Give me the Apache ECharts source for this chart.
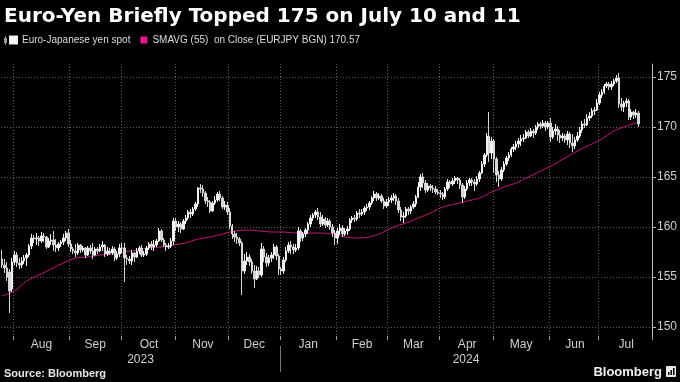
<!DOCTYPE html>
<html><head><meta charset="utf-8">
<script src="https://cdn.jsdelivr.net/npm/echarts/dist/echarts.min.js"></script>
<style>html,body{margin:0;padding:0;background:#000;}#chart{width:680px;height:382px;}</style>
</head><body><div id="chart"></div>
<script>
const titleText = 'Euro-Yen Briefly Topped 175 on July 10 and 11';
const spotName = 'Euro-Japanese yen spot';
const smaName = 'SMAVG (55)  on Close (EURJPY BGN) 170.57';
const sourceText = 'Source: Bloomberg';
const yTicks = [150, 155, 160, 165, 170, 175];
const monthNames = ['Jan','Feb','Mar','Apr','May','Jun','Jul','Aug','Sep','Oct','Nov','Dec'];
const firstDay = '2023-07-25';
const lastAxisDay = '2024-07-30';

// daily candles: [open, close, low, high]
const jul2023 = [[156.8,156.2,155.9,157.7],[156.2,155.9,155.4,156.8],[155.9,155.0,154.6,156.5],[155.5,153.6,151.4,155.8],[153.8,156.5,153.5,156.9]];
const aug2023 = [[156.5,157.2,156.2,157.6],[157.2,156.4,156.0,157.5],[156.4,156.2,155.8,156.9],[156.2,156.6,155.9,157.0],[156.6,156.9,156.3,157.2],[156.9,157.2,156.1,157.4],[157.2,158.1,157.0,158.3],[158.1,158.9,157.8,159.3],[158.9,158.8,158.4,159.2],[158.8,158.9,158.2,159.4],[158.9,158.6,158.1,159.1],[158.6,159.1,158.4,159.5],[159.1,159.0,158.5,159.4],[159.0,158.0,157.8,159.1],[158.0,158.6,157.9,158.9],[158.6,158.7,158.2,159.3],[158.7,158.2,157.6,159.6],[158.2,157.9,157.5,158.8],[157.9,158.3,157.6,158.5],[158.3,158.5,158.0,158.7],[158.5,158.9,158.2,159.3],[158.9,159.4,158.6,159.6],[159.4,158.3,158.0,159.8]];
const sep2023 = [[158.3,157.8,157.5,158.7],[157.8,157.6,157.3,158.0],[157.6,157.4,157.0,158.3],[157.4,158.2,157.2,158.4],[158.2,157.7,157.4,158.3],[157.7,157.9,157.5,158.1],[157.9,157.2,156.9,158.0],[157.2,157.9,157.1,158.1],[157.9,157.6,157.3,158.2],[157.6,157.2,156.8,158.4],[157.2,157.8,157.1,158.0],[157.8,157.6,157.3,158.0],[157.6,158.0,157.5,158.3],[158.0,158.2,157.6,158.6],[158.2,157.3,157.0,158.3],[157.3,157.6,157.1,158.0],[157.6,157.4,157.2,157.9],[157.4,157.8,157.2,158.1],[157.8,156.9,156.6,158.0],[156.9,157.3,156.7,157.6],[157.3,157.9,157.0,158.3]];
const oct2023 = [[157.9,157.9,157.4,158.4],[157.9,156.9,154.5,158.4],[156.9,156.8,156.2,157.2],[156.8,156.6,156.3,157.1],[156.6,157.4,156.2,157.7],[157.4,157.0,156.5,157.5],[157.0,157.6,156.9,157.9],[157.6,157.9,157.3,158.1],[157.9,157.2,157.0,158.2],[157.2,157.3,157.0,157.6],[157.3,157.9,157.1,158.1],[157.9,158.3,157.7,158.5],[158.3,158.0,157.7,158.6],[158.0,158.2,157.6,158.7],[158.2,158.6,158.0,158.8],[158.6,159.6,158.5,159.9],[159.6,158.7,158.5,159.8],[158.7,158.2,158.0,158.9],[158.2,158.0,157.6,158.4],[158.0,158.1,157.8,158.4],[158.1,158.6,157.9,158.9],[158.6,160.6,158.2,160.9]];
const nov2023 = [[160.6,160.0,159.6,160.9],[160.0,160.3,159.5,160.6],[160.3,159.8,159.4,160.5],[159.8,160.6,159.7,160.8],[160.6,160.9,160.3,161.2],[160.9,161.5,160.7,161.7],[161.5,161.3,160.9,161.8],[161.3,161.8,161.1,162.0],[161.8,162.3,161.6,162.5],[162.3,163.9,162.0,164.0],[163.9,163.8,163.4,164.3],[163.8,163.4,163.0,164.2],[163.4,162.6,162.3,163.6],[162.6,162.5,162.0,163.0],[162.5,161.6,161.4,162.7],[161.6,162.4,161.5,162.6],[162.4,162.7,162.2,163.1],[162.7,163.3,162.5,163.5],[163.3,162.9,162.6,163.6],[162.9,162.0,161.8,163.1],[162.0,162.2,161.7,162.6],[162.2,161.5,161.2,162.5]];
const dec2023 = [[161.5,160.1,159.8,161.9],[160.1,159.3,158.8,160.3],[159.3,159.0,158.5,159.6],[159.0,158.8,158.3,159.4],[158.8,158.4,158.1,159.0],[158.4,155.6,153.2,158.6],[155.6,156.6,155.3,157.3],[156.6,157.0,156.2,157.5],[157.0,156.5,156.1,157.3],[156.5,155.6,155.3,156.8],[155.6,154.8,153.9,156.2],[154.8,155.6,154.7,156.1],[155.6,155.2,154.9,156.0],[155.2,157.8,155.0,158.4],[157.8,157.0,156.5,158.1],[157.0,156.4,156.0,157.4],[156.4,156.9,156.1,157.2],[156.9,157.2,156.5,157.5],[157.2,158.0,156.8,158.3],[158.0,157.1,156.7,158.2],[157.1,155.8,155.2,157.3]];
const jan2024 = [[155.8,155.6,155.2,156.0],[155.6,156.7,155.3,157.0],[156.7,157.6,156.5,158.0],[157.6,158.2,157.4,158.5],[158.2,158.0,157.3,158.6],[158.0,157.7,157.3,158.3],[157.7,157.9,157.5,158.3],[157.9,159.6,157.7,160.0],[159.6,158.9,158.5,159.8],[158.9,159.3,158.6,159.5],[159.3,159.7,159.0,159.9],[159.7,160.3,159.3,160.5],[160.3,160.9,160.0,161.2],[160.9,161.2,160.6,161.4],[161.2,161.5,160.9,161.7],[161.5,161.0,160.7,161.9],[161.0,160.3,160.0,161.5],[160.3,160.8,160.1,161.2],[160.8,160.2,159.9,161.0],[160.2,160.6,160.0,160.9],[160.6,160.0,159.7,160.8],[160.0,159.4,159.0,160.3],[159.4,158.9,158.2,159.7]];
const feb2024 = [[158.9,159.6,158.3,159.9],[159.6,159.9,159.2,160.3],[159.9,159.3,159.0,160.2],[159.3,159.6,159.1,159.9],[159.6,159.8,159.2,160.1],[159.8,160.7,159.6,160.9],[160.7,160.9,160.4,161.1],[160.9,160.8,160.5,161.2],[160.8,161.4,160.6,161.6],[161.4,161.3,160.9,161.8],[161.3,161.5,161.1,161.8],[161.5,161.9,161.2,162.1],[161.9,162.0,161.6,162.3],[162.0,162.4,161.7,162.6],[162.4,162.9,162.2,163.1],[162.9,163.3,162.6,163.6],[163.3,162.9,162.6,163.5],[162.9,163.1,162.7,163.4],[163.1,162.6,162.4,163.3],[162.6,162.1,161.8,162.9],[162.1,162.5,161.9,162.8]];
const mar2024 = [[162.5,162.7,162.1,163.0],[162.7,162.9,162.4,163.2],[162.9,163.1,162.6,163.4],[163.1,162.6,162.2,163.3],[162.6,161.7,161.4,162.9],[161.7,161.0,160.6,162.0],[161.0,161.1,160.4,161.5],[161.1,161.8,160.9,162.0],[161.8,161.6,161.2,162.0],[161.6,162.0,161.3,162.2],[162.0,162.3,161.8,162.6],[162.3,163.0,162.0,163.2],[163.0,164.0,162.9,164.5],[164.0,165.0,163.6,165.3],[165.0,164.4,163.9,165.4],[164.4,163.7,163.4,164.7],[163.7,164.1,163.5,164.4],[164.1,163.9,163.6,164.3],[163.9,163.8,163.4,164.2],[163.8,163.5,163.3,164.1],[163.5,163.4,163.2,163.8]];
const apr2024 = [[163.4,163.3,162.9,163.7],[163.3,163.0,162.7,163.5],[163.0,163.8,162.8,164.0],[163.8,164.5,163.6,164.8],[164.5,164.3,163.9,164.7],[164.3,164.6,164.1,164.9],[164.6,164.9,164.3,165.1],[164.9,164.7,164.3,165.0],[164.7,164.2,163.8,164.9],[164.2,163.0,162.4,164.4],[163.0,163.8,162.8,164.1],[163.8,164.4,163.6,164.7],[164.4,164.7,164.1,164.9],[164.7,164.5,164.1,164.9],[164.5,164.3,163.6,164.8],[164.3,164.8,164.1,165.1],[164.8,165.4,164.5,165.6],[165.4,166.3,165.3,166.6],[166.3,167.2,166.0,167.4],[167.2,169.1,167.0,169.4],[169.1,167.4,166.5,171.5],[167.4,168.6,166.8,169.0]];
const may2024 = [[168.6,166.8,165.4,168.8],[166.8,165.2,164.5,167.0],[165.2,164.8,164.0,165.6],[164.8,165.7,164.6,166.0],[165.7,166.3,165.5,166.6],[166.3,166.9,166.1,167.1],[166.9,167.2,166.6,167.5],[167.2,167.8,167.0,168.0],[167.8,168.0,167.5,168.3],[168.0,168.3,167.7,168.6],[168.3,168.6,167.9,168.9],[168.6,168.8,168.1,169.2],[168.8,168.9,168.5,169.3],[168.9,169.5,168.8,169.7],[169.5,169.1,168.9,169.7],[169.1,169.6,169.0,169.9],[169.6,169.4,168.9,169.8],[169.4,170.0,169.2,170.2],[170.0,170.3,169.7,170.5],[170.3,170.1,169.8,170.5],[170.1,170.4,169.9,170.7],[170.4,170.0,169.6,170.6],[170.0,170.4,169.8,170.6]];
const jun2024 = [[170.4,169.0,168.5,170.9],[169.0,169.6,168.8,170.0],[169.6,169.8,169.2,170.3],[169.8,169.2,168.6,170.1],[169.2,168.9,168.4,169.7],[168.9,169.1,168.6,169.4],[169.1,168.7,168.4,169.3],[168.7,169.3,168.2,169.6],[169.3,168.4,167.9,169.5],[168.4,168.1,167.5,169.3],[168.1,168.7,167.8,169.0],[168.7,169.1,168.5,169.5],[169.1,169.7,168.9,170.0],[169.7,170.3,169.4,170.6],[170.3,170.2,169.9,170.8],[170.2,170.9,170.1,171.3],[170.9,171.1,170.6,171.5],[171.1,171.6,170.9,171.9],[171.6,171.7,171.2,172.0],[171.7,172.4,171.6,172.8]];
const jul2024 = [[172.4,173.2,172.2,173.5],[173.2,173.5,172.9,173.8],[173.5,174.1,173.3,174.3],[174.1,174.3,173.9,174.5],[174.3,174.0,173.7,174.5],[174.0,174.3,173.7,174.6],[174.3,174.6,174.1,174.8],[174.6,174.9,174.4,175.2],[174.9,172.3,171.9,175.4],[172.3,172.0,171.6,172.9],[172.0,172.4,171.5,172.6],[172.4,172.6,172.0,172.9],[172.6,171.0,170.7,172.8],[171.0,171.5,170.7,171.8],[171.5,171.2,170.8,171.6],[171.2,171.4,170.9,171.8],[171.4,170.3,170.0,171.6]];

// 55-day moving average
const smaDates = ['2023-07-25','2023-08-01','2023-08-08','2023-08-15','2023-08-22','2023-08-29','2023-09-05','2023-09-12','2023-09-19','2023-09-26','2023-10-03','2023-10-10','2023-10-17','2023-10-24','2023-10-31','2023-11-07','2023-11-14','2023-11-21','2023-11-28','2023-12-05','2023-12-12','2023-12-19','2023-12-26','2024-01-02','2024-01-09','2024-01-16','2024-01-23','2024-01-30','2024-02-06','2024-02-13','2024-02-20','2024-02-27','2024-03-05','2024-03-12','2024-03-19','2024-03-26','2024-04-02','2024-04-09','2024-04-16','2024-04-23','2024-04-30','2024-05-07','2024-05-14','2024-05-21','2024-05-28','2024-06-04','2024-06-11','2024-06-18','2024-06-25','2024-07-02','2024-07-09','2024-07-16','2024-07-23'];
const smaValues = [153.1,153.6,154.6,155.2,155.8,156.4,156.9,157.0,157.2,157.3,157.5,157.7,157.9,158.0,158.2,158.4,158.8,159.0,159.3,159.6,159.7,159.6,159.5,159.5,159.4,159.4,159.4,159.3,159.0,158.9,159.0,159.4,160.0,160.4,160.9,161.4,162.0,162.3,162.6,162.9,163.5,164.0,164.4,165.0,165.6,166.2,166.9,167.6,168.2,168.8,169.6,170.1,170.5];

const ohlc = [].concat(jul2023, aug2023, sep2023, oct2023, nov2023, dec2023, jan2024, feb2024, mar2024, apr2024, may2024, jun2024, jul2024);

// weekday categories
const categories = [];
for (let d = new Date(firstDay + 'T00:00:00Z'); d <= new Date(lastAxisDay + 'T00:00:00Z'); d.setUTCDate(d.getUTCDate() + 1)) {
  const wd = d.getUTCDay();
  if (wd === 0 || wd === 6) continue;
  categories.push(d.toISOString().slice(0, 10));
}
function weekdaysInMonth(y, m) {
  let n = 0;
  const d = new Date(Date.UTC(y, m, 1));
  while (d.getUTCMonth() === m) { const wd = d.getUTCDay(); if (wd !== 0 && wd !== 6) n++; d.setUTCDate(d.getUTCDate() + 1); }
  return n;
}
const monthStart = new Set();
const labelIdx = new Set();
categories.forEach((c, i) => {
  if (i > 0 && c.slice(5, 7) !== categories[i - 1].slice(5, 7)) {
    monthStart.add(i);
    const n = weekdaysInMonth(+c.slice(0, 4), +c.slice(5, 7) - 1);
    labelIdx.add(i + Math.floor(n / 2));
  }
});

const gridColor = '#5e5e5e';
const chart = echarts.init(document.getElementById('chart'), null, {renderer: 'canvas'});
chart.setOption({
  backgroundColor: '#000',
  animation: false,
  title: {text: titleText, left: 4, top: 7, padding: 0,
    textStyle: {color: '#fff', fontSize: 20, fontWeight: 'bold', fontFamily: 'DejaVu Sans'}},
  legend: {left: 9, top: 35, padding: 0, itemWidth: 7, itemHeight: 7, itemGap: 10, selectedMode: false,
    textStyle: {color: '#dcdcdc', fontSize: 10, fontFamily: 'Liberation Sans'},
    data: [{name: spotName, icon: 'rect', itemStyle: {color: '#ffffff'}},
           {name: smaName, icon: 'rect', itemStyle: {color: '#e0138c'}}]},
  grid: {left: 1, right: 28, top: 64, bottom: 46, containLabel: false},
  xAxis: {
    type: 'category', data: categories, boundaryGap: true,
    axisLine: {show: false},
    axisTick: {show: true, interval: (i) => monthStart.has(i), length: 4, lineStyle: {color: '#a0a0a0'}},
    axisLabel: {interval: (i) => labelIdx.has(i), formatter: (v) => monthNames[+v.slice(5, 7) - 1],
      color: '#d0d0d0', fontSize: 12, margin: 3, fontFamily: 'Liberation Sans'},
    splitLine: {show: true, interval: (i) => monthStart.has(i), lineStyle: {color: gridColor, type: [1, 2], width: 1}}
  },
  yAxis: {
    type: 'value', position: 'right', min: 149.1, max: 176.3, scale: true,
    axisLine: {show: true, lineStyle: {color: '#bdbdbd'}},
    axisTick: {show: true, customValues: yTicks, length: 4, lineStyle: {color: '#bdbdbd'}},
    axisLabel: {customValues: yTicks, color: '#d0d0d0', fontSize: 12, margin: 5, fontFamily: 'Liberation Sans'},
    splitLine: {show: true, lineStyle: {color: gridColor, type: [1, 2], width: 1}}
  },
  series: [
    {type: 'candlestick', name: spotName, data: ohlc, barWidth: '80%', z: 3,
     itemStyle: {color: '#f2f2f2', color0: '#d6d6d6', borderColor: '#f2f2f2', borderColor0: '#d6d6d6', borderWidth: 1}},
    {type: 'line', name: smaName, data: smaDates.map((d, i) => [d, smaValues[i]]), symbol: 'none', showSymbol: false,
     smooth: 0.3, z: 2, lineStyle: {color: '#c0177a', width: 1}, itemStyle: {color: '#e0138c'}}
  ]
});

// axis decorations below the plot (year labels + separator)
const x0 = chart.convertToPixel({xAxisIndex: 0}, categories[0]);
const band = chart.convertToPixel({xAxisIndex: 0}, categories[1]) - x0;
const gLeft = x0 - band / 2;
const gRight = x0 + (categories.length - 0.5) * band;
const janX = x0 + (categories.indexOf('2024-01-01') - 0.5) * band;
chart.setOption({
  graphic: [
    {type: 'text', left: 4, top: 368, style: {text: sourceText, fill: '#e6e6e6', font: 'bold 11px "Liberation Sans"'}},
    {type: 'text', x: (gLeft + janX) / 2, y: 360, style: {text: '2023', fill: '#d0d0d0', font: '12px "Liberation Sans"', textAlign: 'center', textVerticalAlign: 'middle'}},
    {type: 'text', x: (janX + gRight) / 2, y: 360, style: {text: '2024', fill: '#d0d0d0', font: '12px "Liberation Sans"', textAlign: 'center', textVerticalAlign: 'middle'}},
    {type: 'line', shape: {x1: Math.round(janX) + 0.5, y1: 346, x2: Math.round(janX) + 0.5, y2: 372}, style: {stroke: '#777', lineWidth: 1}},
    {type: 'text', x: 662, y: 372, style: {text: 'Bloomberg', fill: '#f0f0f0', font: 'bold 13px "Liberation Sans"', textAlign: 'right', textVerticalAlign: 'middle'}},
    {type: 'rect', shape: {x: 666, y: 366, width: 10, height: 11, r: 1}, style: {fill: '#e8e8e8'}},
    {type: 'rect', shape: {x: 668, y: 372, width: 1.5, height: 3}, style: {fill: '#000'}},
    {type: 'rect', shape: {x: 670.5, y: 370, width: 1.5, height: 5}, style: {fill: '#000'}},
    {type: 'rect', shape: {x: 673, y: 368, width: 1.5, height: 7}, style: {fill: '#000'}},
    {type: 'line', shape: {x1: 5.5, y1: 36, x2: 5.5, y2: 45}, style: {stroke: '#999', lineWidth: 1}},
    {type: 'rect', shape: {x: 4, y: 38, width: 3, height: 5}, style: {fill: '#999'}}
  ]
});
</script>
</body></html>
